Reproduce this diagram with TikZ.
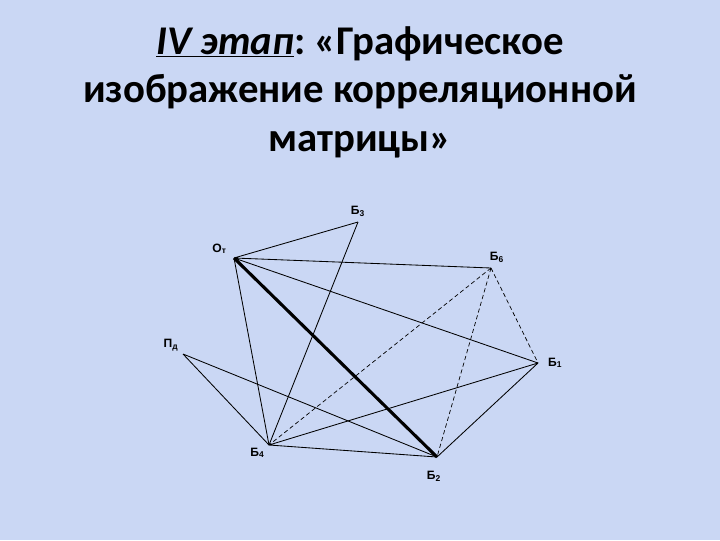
\documentclass[tikz,border=0pt]{standalone}
\usepackage{fontspec}
\setmainfont{Carlito}
\newfontfamily\lblfont{Liberation Sans}
\usepackage{xcolor}
\usetikzlibrary{positioning}
\definecolor{bgblue}{RGB}{202,215,244}

\begin{document}
\begin{tikzpicture}[x = .025cm, y = -.025cm,
  lbl/.style = {font = \lblfont\bfseries\fontsize{8.6}{9}\selectfont, inner sep = 1pt},
  link/.style = {line width = .6pt},
  weak/.style = {line width = .5pt, dash pattern = on 3pt off 2pt},
  strong/.style = {line width = 2.2pt}]
\fill[bgblue] (0,0) rectangle (720,540);
\node[font = \bfseries\fontsize{29}{34.5}\selectfont, align = center] (title) at (360,92)
  {\textit{\underline{IV этап}}:~«Графическое\\ изображение корреляционной\\ матрицы»};
% points of the matrix
\coordinate (Ot) at (234,258);
\coordinate (B3) at (358,222);
\coordinate (B6) at (491,268);
\coordinate (Pd) at (183,354);
\coordinate (B1) at (538,363);
\coordinate (B4) at (269,445);
\coordinate (B2) at (437,457);
\node[lbl, above left = 2pt and 4pt of Ot] (lOt) {O\textsubscript{т}};
\node[lbl, above = 3pt of B3] (lB3) {Б\textsubscript{3}};
\node[lbl, above right = 3pt and -2pt of B6] (lB6) {Б\textsubscript{6}};
\node[lbl, above left = 1pt and 2pt of Pd] (lPd) {П\textsubscript{д}};
\node[lbl, right = 6pt of B1] (lB1) {Б\textsubscript{1}};
\node[lbl, below left = 1pt and 2pt of B4] (lB4) {Б\textsubscript{4}};
\node[lbl, below left = 9pt and -4pt of B2] (lB2) {Б\textsubscript{2}};
% links
\draw[strong] (Ot) -- (B2);
\draw[link] (Ot) -- (B3) (Ot) -- (B6) (Ot) -- (B1) (Ot) -- (B4);
\draw[link] (B3) -- (B4);
\draw[link] (Pd) -- (B4) (Pd) -- (B2);
\draw[link] (B4) -- (B1) (B4) -- (B2) (B2) -- (B1);
\draw[weak] (B6) -- (B4) (B6) -- (B2) (B6) -- (B1);
\end{tikzpicture}
\end{document}
